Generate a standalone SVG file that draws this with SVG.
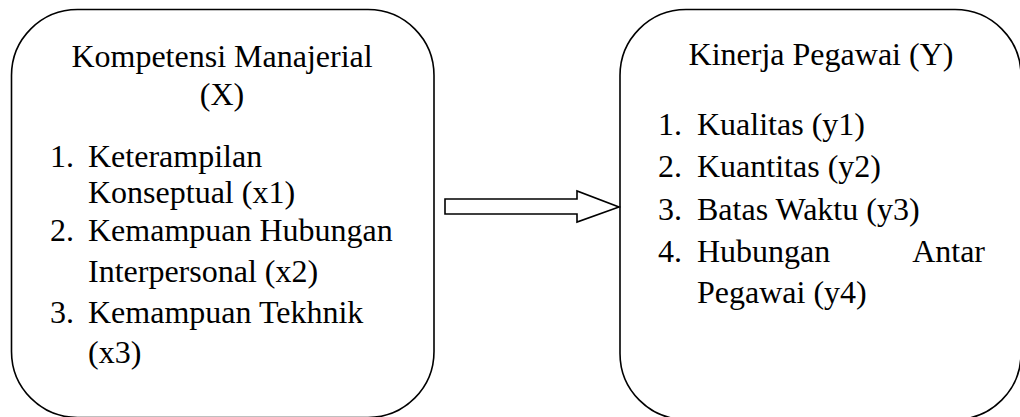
<svg xmlns="http://www.w3.org/2000/svg" width="1020" height="417" viewBox="0 0 1020 417">
<style>
.box{fill:#fff;stroke:#000;stroke-width:1.6}
.t{font-size:32px;fill:#000}
.arrow{fill:#fff;stroke:#000;stroke-width:1.6;stroke-linejoin:miter}
</style>
<rect width="1020" height="417" fill="#fff"/>
<g id="node-x" font-family="Liberation Serif, Times New Roman, serif">
<rect class="box" x="11.5" y="9.5" width="422.5" height="408" rx="66" ry="66"/>
<text class="t" x="222" y="67" text-anchor="middle">Kompetensi Manajerial</text>
<text class="t" x="222" y="105" text-anchor="middle">(X)</text>
<text class="t" x="50" y="167">1.</text>
<text class="t" x="88" y="167">Keterampilan</text>
<text class="t" x="88" y="203">Konseptual (x1)</text>
<text class="t" x="50" y="241">2.</text>
<text class="t" x="88" y="241">Kemampuan Hubungan</text>
<text class="t" x="88" y="282">Interpersonal (x2)</text>
<text class="t" x="50" y="323">3.</text>
<text class="t" x="88" y="323">Kemampuan Tekhnik</text>
<text class="t" x="88" y="363">(x3)</text>
</g>
<g id="node-y" font-family="Liberation Serif, Times New Roman, serif">
<rect class="box" x="620" y="9.5" width="401" height="410" rx="66" ry="66"/>
<text class="t" x="821" y="65" text-anchor="middle">Kinerja Pegawai (Y)</text>
<text class="t" x="658" y="135">1.</text>
<text class="t" x="697" y="135">Kualitas (y1)</text>
<text class="t" x="658" y="177">2.</text>
<text class="t" x="697" y="177">Kuantitas (y2)</text>
<text class="t" x="658" y="220">3.</text>
<text class="t" x="697" y="220">Batas Waktu (y3)</text>
<text class="t" x="658" y="262">4.</text>
<text class="t" x="697" y="262">Hubungan</text>
<text class="t" x="985" y="262" text-anchor="end">Antar</text>
<text class="t" x="697" y="303">Pegawai (y4)</text>
</g>
<g id="connectors">
<polygon class="arrow" points="445,199 577,199 577,191 619,207 577,222 577,214 445,214"/>
</g>
</svg>
